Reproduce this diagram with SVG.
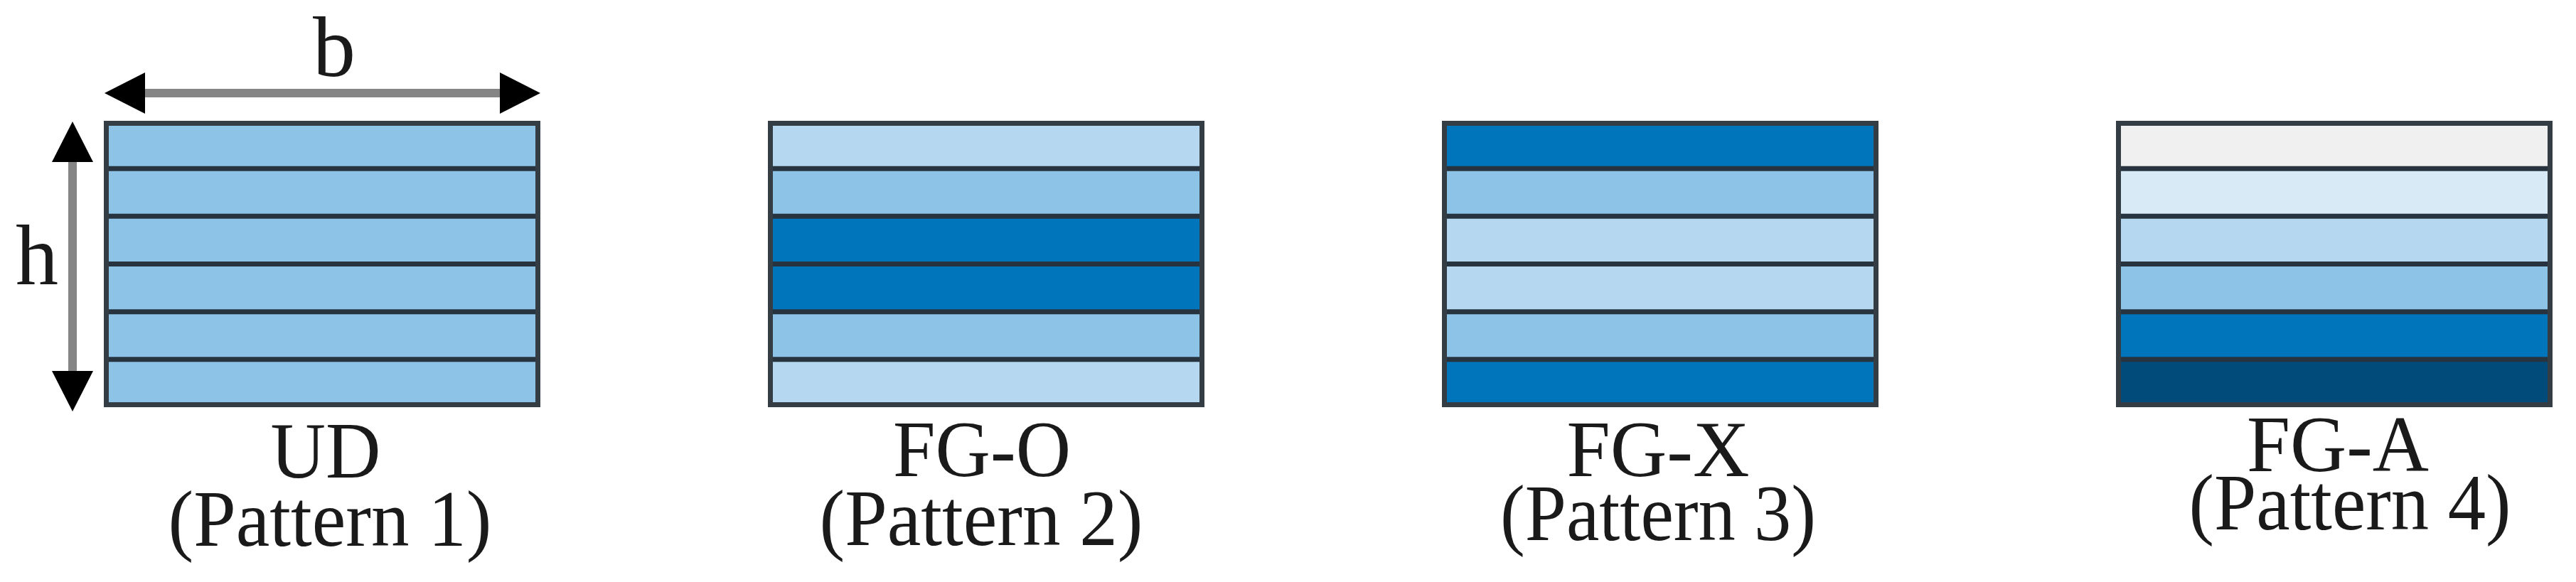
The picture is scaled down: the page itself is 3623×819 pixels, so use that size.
<svg xmlns="http://www.w3.org/2000/svg" width="3623" height="819" viewBox="0 0 3623 819">
<style>
.lbl{font-family:"Liberation Serif","Times New Roman",serif;font-size:112px;fill:#1a1a1a;text-anchor:middle}
.dim{font-family:"Liberation Serif","Times New Roman",serif;font-size:120px;fill:#1a1a1a;text-anchor:middle}
.sep{stroke:#27343f;stroke-width:7}
.frame{fill:none;stroke:#353d44;stroke-width:7}
.m{fill:#8cc3e7}.l{fill:#b5d8f0}.d{fill:#0075bb}.vl{fill:#d9eaf7}.w{fill:#f0f0f0}.dd{fill:#004b7a}
.arr{stroke:#858585;stroke-width:12;fill:none}
</style>
<defs>
<marker id="ah" viewBox="0 0 57 58" refX="0" refY="29" markerWidth="57" markerHeight="58" markerUnits="userSpaceOnUse" orient="auto-start-reverse">
<path d="M0,0 L57,29 L0,58 z" fill="#000"/>
</marker>
<g id="seps">
<line class="sep" x1="0" y1="237.2" x2="614" y2="237.2"/>
<line class="sep" x1="0" y1="304.3" x2="614" y2="304.3"/>
<line class="sep" x1="0" y1="371.5" x2="614" y2="371.5"/>
<line class="sep" x1="0" y1="438.7" x2="614" y2="438.7"/>
<line class="sep" x1="0" y1="505.8" x2="614" y2="505.8"/>
<rect class="frame" x="3.5" y="173.5" width="607" height="396"/>
</g>
</defs>
<rect width="3623" height="819" fill="#fff"/>

<g id="connectors">
<line class="arr" x1="204" y1="131" x2="703" y2="131" marker-start="url(#ah)" marker-end="url(#ah)"/>
<line class="arr" x1="102" y1="228" x2="102" y2="522" marker-start="url(#ah)" marker-end="url(#ah)"/>
<text class="dim" x="470" y="107">b</text>
<text class="dim" x="52" y="400">h</text>
</g>

<g id="pattern1" transform="translate(146,0)">
<rect class="m" x="0" y="170" width="614" height="67.2"/>
<rect class="m" x="0" y="237.2" width="614" height="67.2"/>
<rect class="m" x="0" y="304.3" width="614" height="67.2"/>
<rect class="m" x="0" y="371.5" width="614" height="67.2"/>
<rect class="m" x="0" y="438.7" width="614" height="67.2"/>
<rect class="m" x="0" y="505.8" width="614" height="67.2"/>
<use href="#seps"/>
<text class="lbl" x="312" y="672" textLength="155" lengthAdjust="spacingAndGlyphs">UD</text>
<text class="lbl" x="318" y="768" textLength="455" lengthAdjust="spacingAndGlyphs">(Pattern 1)</text>
</g>

<g id="pattern2" transform="translate(1080,0)">
<rect class="l" x="0" y="170" width="614" height="67.2"/>
<rect class="m" x="0" y="237.2" width="614" height="67.2"/>
<rect class="d" x="0" y="304.3" width="614" height="67.2"/>
<rect class="d" x="0" y="371.5" width="614" height="67.2"/>
<rect class="m" x="0" y="438.7" width="614" height="67.2"/>
<rect class="l" x="0" y="505.8" width="614" height="67.2"/>
<use href="#seps"/>
<text class="lbl" x="301" y="670" textLength="250" lengthAdjust="spacingAndGlyphs">FG-O</text>
<text class="lbl" x="300" y="767" textLength="455" lengthAdjust="spacingAndGlyphs">(Pattern 2)</text>
</g>

<g id="pattern3" transform="translate(2028,0)">
<rect class="d" x="0" y="170" width="614" height="67.2"/>
<rect class="m" x="0" y="237.2" width="614" height="67.2"/>
<rect class="l" x="0" y="304.3" width="614" height="67.2"/>
<rect class="l" x="0" y="371.5" width="614" height="67.2"/>
<rect class="m" x="0" y="438.7" width="614" height="67.2"/>
<rect class="d" x="0" y="505.8" width="614" height="67.2"/>
<use href="#seps"/>
<text class="lbl" x="304" y="670" textLength="257" lengthAdjust="spacingAndGlyphs">FG-X</text>
<text class="lbl" x="304" y="760" textLength="444" lengthAdjust="spacingAndGlyphs">(Pattern 3)</text>
</g>

<g id="pattern4" transform="translate(2976,0)">
<rect class="w" x="0" y="170" width="614" height="67.2"/>
<rect class="vl" x="0" y="237.2" width="614" height="67.2"/>
<rect class="l" x="0" y="304.3" width="614" height="67.2"/>
<rect class="m" x="0" y="371.5" width="614" height="67.2"/>
<rect class="d" x="0" y="438.7" width="614" height="67.2"/>
<rect class="dd" x="0" y="505.8" width="614" height="67.2"/>
<use href="#seps"/>
<text class="lbl" x="312" y="663" textLength="256" lengthAdjust="spacingAndGlyphs">FG-A</text>
<text class="lbl" x="329" y="745" textLength="453" lengthAdjust="spacingAndGlyphs">(Pattern 4)</text>
</g>
</svg>
